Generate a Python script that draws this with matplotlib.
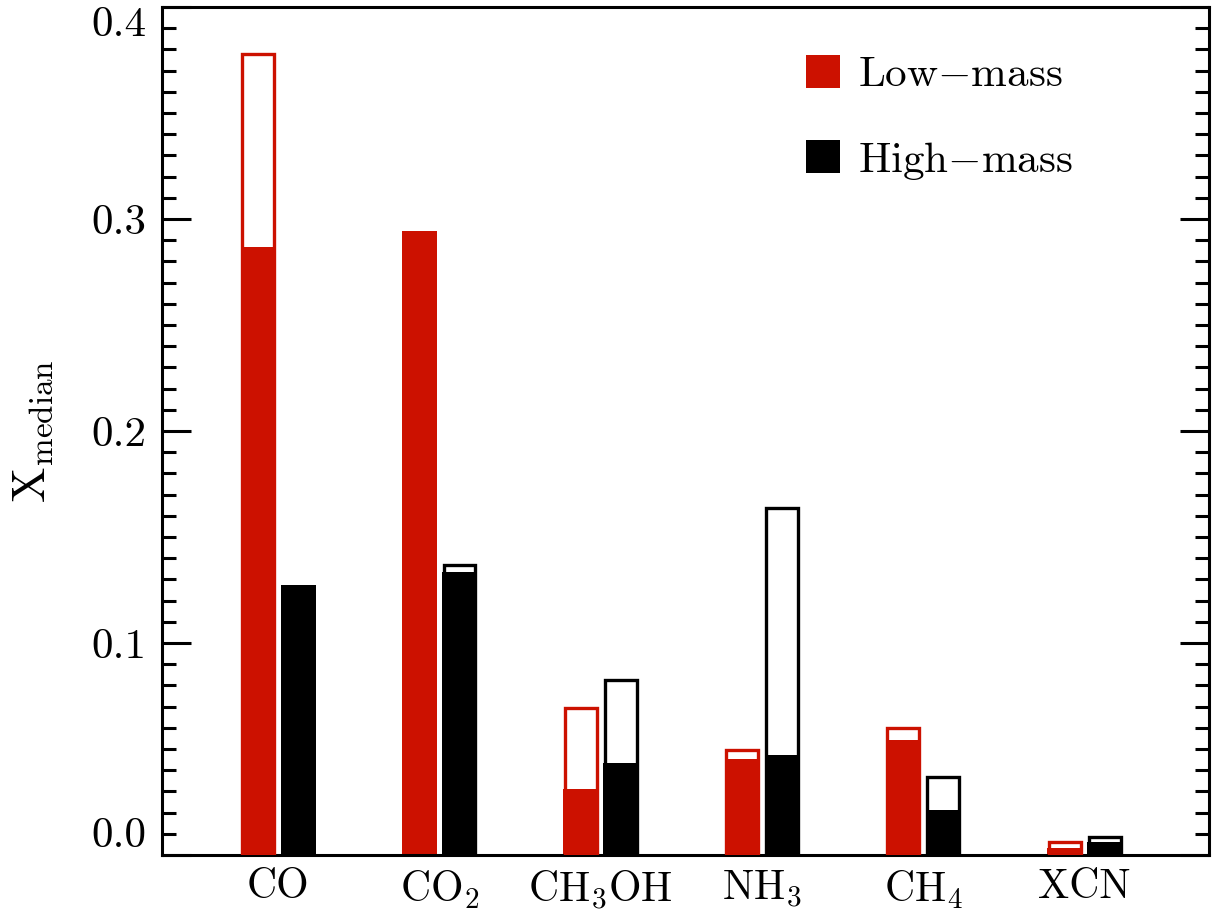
import numpy as np
import matplotlib
matplotlib.use('Agg')
import matplotlib.pyplot as plt
from matplotlib.patches import Patch
from matplotlib.ticker import MultipleLocator

plt.rcParams['font.family'] = 'serif'
plt.rcParams['font.serif'] = ['cmr10']
plt.rcParams['mathtext.fontset'] = 'cm'
plt.rcParams['axes.unicode_minus'] = False
plt.rcParams['axes.formatter.use_mathtext'] = True

# data
species = ['CO', 'CO$_2$', 'CH$_3$OH', 'NH$_3$', 'CH$_4$', 'XCN']
low_fill = [0.287, 0.2945, 0.031, 0.0453, 0.0542, 0.0034]
low_top = [0.378, 0.2945, 0.0695, 0.0497, 0.0600, 0.0062]
high_fill = [0.1272, 0.1335, 0.0434, 0.0472, 0.0212, 0.0063]
high_top = [0.1272, 0.1368, 0.0826, 0.1635, 0.0368, 0.0083]
yticks = [0.0, 0.1, 0.2, 0.3, 0.4]

red = '#cc1100'
fs = 30

fig = plt.figure(figsize=(12.21, 9.14), dpi=100)
ax = fig.add_axes([162/1221, 1-855/914, (1209-162)/1221, (855-7)/914])

x = np.arange(len(species))
w = 0.218
off = 0.124
lw = 2.4
inset = 0.02

for xs, fill, top, c in [(x - off, low_fill, low_top, red),
                         (x + off, high_fill, high_top, 'black')]:
    ax.bar(xs, fill, width=w, color=c, edgecolor='none', zorder=2)
    for xi, f, t in zip(xs, fill, top):
        if t > f:
            ax.bar(xi, t, width=w - inset, facecolor='none', edgecolor=c,
                   linewidth=lw, zorder=3)

ax.set_xlim(-0.72, 5.77)
ax.set_ylim(0, 0.4)
ax.set_xticks(x)
ax.set_xticklabels(species, fontsize=fs)
ax.tick_params(axis='x', length=0, pad=10)

ax.set_yticks(yticks)
ax.set_yticklabels(['%.1f' % v for v in yticks], fontsize=fs + 1)
ax.yaxis.set_minor_locator(MultipleLocator(0.01))
ax.tick_params(axis='y', which='both', direction='in', left=True, right=True,
               width=2.2, pad=11)
ax.tick_params(axis='y', which='major', length=21)
ax.tick_params(axis='y', which='minor', length=10)
labs = ax.get_yticklabels()
labs[0].set_va('bottom')
labs[-1].set_va('top')

for s in ax.spines.values():
    s.set_linewidth(2.2)

ax.set_ylabel(r'$\mathrm{X}_{\mathrm{median}}$', fontsize=fs + 4, labelpad=26)

handles = [Patch(facecolor=red, edgecolor='none'),
           Patch(facecolor='black', edgecolor='none')]
ax.legend(handles, ['Low$-$mass', 'High$-$mass'], fontsize=fs + 1, frameon=False,
          loc='upper left', bbox_to_anchor=(806/1221, 1-55/914),
          bbox_transform=fig.transFigure, borderpad=0, borderaxespad=0,
          handlelength=0.79, handleheight=0.79, handletextpad=0.42,
          labelspacing=1.05)

fig.savefig('out.png', dpi=100)
